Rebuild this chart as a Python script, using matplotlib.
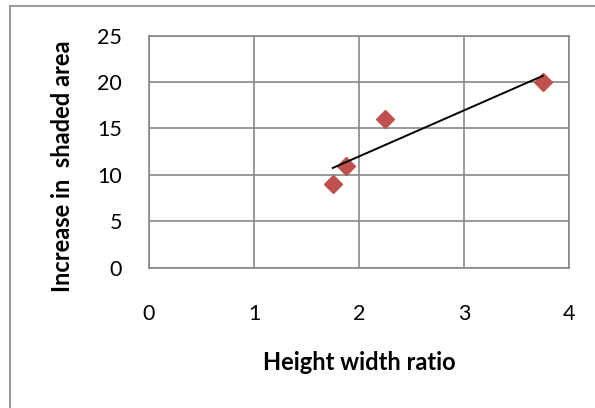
import numpy as np
import matplotlib
matplotlib.use("Agg")
import matplotlib.pyplot as plt
from matplotlib.lines import Line2D

plt.rcParams['font.family'] = ['Lato', 'DejaVu Sans']

x_vals = [1.75, 1.875, 2.25, 3.75]
y_vals = [9, 11, 16, 20]
x_ticks = [0, 1, 2, 3, 4]
y_ticks = [0, 5, 10, 15, 20, 25]
x_label = "Height width ratio"
y_label = "Increase in  shaded area"

fig = plt.figure(figsize=(5.95, 4.08), dpi=100)
ax = fig.add_axes([149/595, 1 - 267.6/408, 420/595, 231.9/408])

grid_c = '#878787'
ax.set_xlim(0, 4)
ax.set_ylim(0, 25)
ax.set_xticks(x_ticks)
ax.set_yticks(y_ticks)
ax.grid(True, color=grid_c, linewidth=1.2)
ax.set_axisbelow(True)
for s in ax.spines.values():
    s.set_color(grid_c)
    s.set_linewidth(1.2)
ax.tick_params(length=0, labelsize=15.5, colors='black')
ax.tick_params(axis='x', pad=26)
ax.tick_params(axis='y', pad=19.5)

ax.plot(x_vals, y_vals, linestyle='none', marker='D', markersize=9.5,
        color='#C0504D', zorder=3, clip_on=False)

coef = np.polyfit(x_vals, y_vals, 1)
xs = np.array([min(x_vals), max(x_vals)])
ax.plot(xs, np.polyval(coef, xs), color='black', linewidth=1.4, zorder=4)

fig.text(359/595, 1 - 363/408, x_label, ha='center', va='center',
         fontsize=17, fontweight='bold')
fig.text(63/595, 1 - 166/408, y_label, ha='center', va='center',
         fontsize=17, fontweight='bold', rotation=90)

# chart frame (left and top edges visible)
fig.add_artist(Line2D([10/595, 10/595], [0, 1 - 6/408], transform=fig.transFigure,
                      color='#898989', linewidth=1.2))
fig.add_artist(Line2D([10/595, 1], [1 - 6/408, 1 - 6/408], transform=fig.transFigure,
                      color='#898989', linewidth=1.2))

fig.savefig('out.png', dpi=100)
